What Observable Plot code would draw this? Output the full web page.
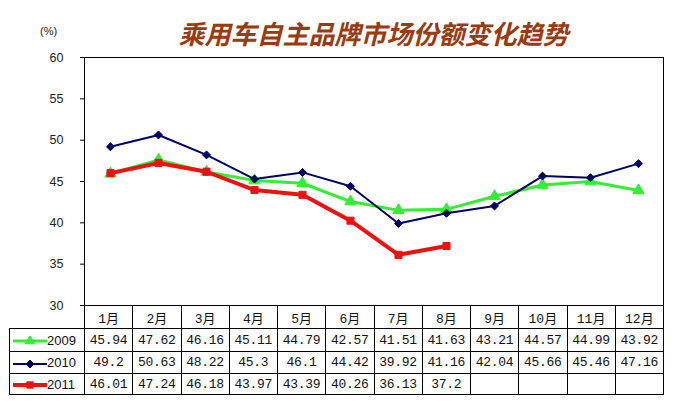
<!DOCTYPE html>
<html>
<head>
<meta charset="utf-8">
<script src="https://cdn.jsdelivr.net/npm/d3@7"></script>
<script src="https://cdn.jsdelivr.net/npm/@observablehq/plot@0.6"></script>
<style>
  html, body { margin: 0; padding: 0; background: #fff; }
  #wrap { position: relative; width: 678px; height: 419px; background: #fff; overflow: hidden; }
  #title { position: absolute; left: 84px; width: 579px; top: 15px; text-align: center;
    font-family: "Noto Sans CJK SC", sans-serif; font-weight: bold; font-style: italic;
    font-size: 26px; line-height: 36px; color: #9a3a10; letter-spacing: 0px; }
  #unit { position: absolute; left: 40px; top: 25px; font-family: "Liberation Sans", sans-serif; font-size: 11px; color: #222; }
  #chart { position: absolute; left: 0; top: 0; }
  #tbl { position: absolute; left: 9px; top: 305px; border-collapse: collapse; table-layout: fixed; }
  #tbl td { border: 1px solid #000; padding: 0; text-align: center; font-family: "Liberation Mono", "Noto Sans CJK SC", monospace; font-size: 13px; color: #111; white-space: nowrap; overflow: hidden; letter-spacing: -0.3px; }
  #tbl td.hm { font-family: "Liberation Mono", "Noto Sans CJK SC", monospace; letter-spacing: 0; }
  #tbl td.empty { border-top: none; border-left: none; }
  #tbl td.leg { text-align: left; font-family: "Liberation Sans", sans-serif; font-size: 13px; letter-spacing: 0; }
  #tbl td.leg svg { vertical-align: middle; margin-left: 3px; }
</style>
</head>
<body>
<div id="wrap">
  <div id="title"></div>
  <div id="unit">(%)</div>
  <table id="tbl"></table>
  <div id="chart"></div>
</div>
<script>
const titleText = "乘用车自主品牌市场份额变化趋势";
const unitText = "(%)";
const months = ["1月","2月","3月","4月","5月","6月","7月","8月","9月","10月","11月","12月"];
const seriesNames = ["2009","2010","2011"];
const s2009 = [45.94,47.62,46.16,45.11,44.79,42.57,41.51,41.63,43.21,44.57,44.99,43.92];
const s2010 = [49.2,50.63,48.22,45.3,46.1,44.42,39.92,41.16,42.04,45.66,45.46,47.16];
const s2011 = [46.01,47.24,46.18,43.97,43.39,40.26,36.13,37.2];
const yTicks = [30,35,40,45,50,55,60];

const colors = {"2009": "#33ee33", "2010": "#000066", "2011": "#ee1111"};
const widths = {"2009": 3, "2010": 2, "2011": 4};
const symbols = {"2009": "triangle", "2010": "diamond2", "2011": "square"};
const radii = {"2009": 4.2, "2010": 3.6, "2011": 4};

document.getElementById("title").textContent = titleText;
document.getElementById("unit").textContent = unitText;

const seriesVals = [s2009, s2010, s2011];
const data = [];
seriesNames.forEach((name, i) => {
  seriesVals[i].forEach((v, j) => data.push({series: name, month: months[j], value: v}));
});

const marks = [];
seriesNames.forEach(name => {
  const d = data.filter(r => r.series === name);
  marks.push(Plot.line(d, {x: "month", y: "value", stroke: colors[name], strokeWidth: widths[name], strokeLinejoin: "miter"}));
  marks.push(Plot.dot(d, {x: "month", y: "value", symbol: () => symbols[name], fill: colors[name], r: radii[name], stroke: colors[name], strokeWidth: 1}));
});

const chart = Plot.plot({
  width: 678,
  height: 312,
  marginTop: 57,
  marginBottom: 7,
  marginLeft: 84,
  marginRight: 15,
  style: {background: "transparent", overflow: "visible", fontFamily: "Liberation Sans, sans-serif", fontSize: "12.5px", color: "#222"},
  x: {type: "point", domain: months, padding: 0.5, axis: null},
  y: {domain: [30, 60], axis: null},
  symbol: {type: "identity"},
  marks: [
    Plot.axisY({ticks: yTicks, tickSize: 4, tickPadding: 17, label: null, fontSize: 12.5, stroke: "#000"}),
    ...marks,
    Plot.frame({stroke: "#000", strokeWidth: 1})
  ]
});
document.getElementById("chart").appendChild(chart);

// data table
const tbl = document.getElementById("tbl");
const firstW = 75, colW = (663 - 84) / 12;
const cg = document.createElement("colgroup");
[firstW, ...months.map(() => colW)].forEach(w => {
  const c = document.createElement("col"); c.style.width = w + "px"; cg.appendChild(c);
});
tbl.appendChild(cg);
const rowH = [23, 23, 22, 21];
const hr = tbl.insertRow();
hr.style.height = rowH[0] + "px";
const e = hr.insertCell(); e.className = "empty";
months.forEach(m => { const c = hr.insertCell(); c.className = "hm"; c.textContent = m; });

function swatch(name) {
  const ns = "http://www.w3.org/2000/svg";
  const s = document.createElementNS(ns, "svg");
  s.setAttribute("width", 34); s.setAttribute("height", 10);
  const l = document.createElementNS(ns, "line");
  l.setAttribute("x1", 0); l.setAttribute("x2", 34); l.setAttribute("y1", 5); l.setAttribute("y2", 5);
  l.setAttribute("stroke", colors[name]); l.setAttribute("stroke-width", widths[name]);
  s.appendChild(l);
  const p = document.createElementNS(ns, "path");
  const sym = {triangle: d3.symbolTriangle, diamond2: d3.symbolDiamond2, square: d3.symbolSquare}[symbols[name]];
  p.setAttribute("d", d3.symbol(sym, 40)());
  p.setAttribute("transform", "translate(17,5)");
  p.setAttribute("fill", colors[name]);
  p.setAttribute("stroke", colors[name]);
  s.appendChild(p);
  return s;
}

seriesNames.forEach((name, i) => {
  const r = tbl.insertRow();
  r.style.height = rowH[i + 1] + "px";
  const lc = r.insertCell(); lc.className = "leg";
  lc.appendChild(swatch(name));
  lc.appendChild(document.createTextNode(name));
  months.forEach((m, j) => {
    const c = r.insertCell();
    const v = seriesVals[i][j];
    c.textContent = v === undefined ? "" : String(v);
  });
});
</script>
</body>
</html>
